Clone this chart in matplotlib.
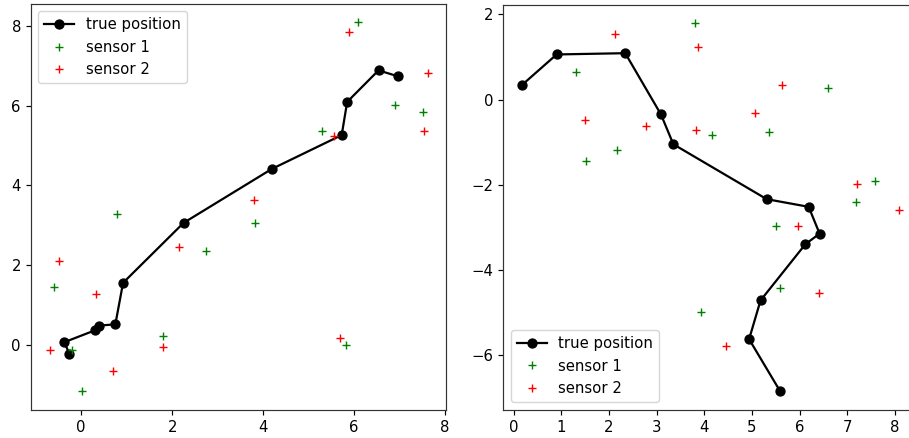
import matplotlib
matplotlib.use("Agg")
import matplotlib.pyplot as plt

# Left panel data
true1_x = [-0.26, -0.37, 0.30, 0.39, 0.75, 0.92, 2.25, 4.19, 5.73, 5.85, 6.54, 6.97]
true1_y = [-0.23, 0.075, 0.37, 0.49, 0.52, 1.56, 3.06, 4.41, 5.26, 6.09, 6.88, 6.73]
s1a_x = [-0.59, -0.21, 0.02, 0.78, 1.80, 2.75, 3.83, 5.30, 5.83, 6.09, 6.91, 7.52]
s1a_y = [1.46, -0.12, -1.15, 3.28, 0.24, 2.35, 3.05, 5.35, 0.00, 8.08, 6.02, 5.83]
s2a_x = [-0.69, -0.49, 0.32, 0.69, 1.80, 2.16, 3.79, 5.56, 5.70, 5.89, 7.55, 7.62]
s2a_y = [-0.12, 2.10, 1.27, -0.64, -0.05, 2.46, 3.63, 5.23, 0.18, 7.85, 5.35, 6.81]

# Right panel data
true2_x = [0.18, 0.90, 2.34, 3.09, 3.35, 5.31, 6.19, 6.42, 6.12, 5.18, 4.94, 5.59]
true2_y = [0.35, 1.06, 1.09, -0.35, -1.05, -2.34, -2.52, -3.15, -3.40, -4.72, -5.63, -6.85]
s1b_x = [3.81, 1.31, 6.59, 5.35, 4.17, 2.16, 1.52, 7.59, 7.18, 5.50, 5.59, 3.94]
s1b_y = [1.79, 0.64, 0.28, -0.77, -0.84, -1.19, -1.44, -1.92, -2.41, -2.97, -4.43, -5.00]
s2b_x = [2.12, 3.87, 5.63, 5.06, 1.49, 2.78, 3.82, 7.21, 8.09, 5.96, 6.40, 4.46]
s2b_y = [1.55, 1.23, 0.35, -0.31, -0.49, -0.63, -0.72, -1.98, -2.59, -2.97, -4.54, -5.80]

labels = ["true position", "sensor 1", "sensor 2"]

s = 1.07
plt.rcParams.update({
    "font.size": 10 * s,
    "lines.linewidth": 1.5 * s,
    "lines.markersize": 6 * s,
    "axes.linewidth": 0.8 * s,
    "xtick.major.size": 3.5 * s,
    "ytick.major.size": 3.5 * s,
    "xtick.major.width": 0.8 * s,
    "ytick.major.width": 0.8 * s,
    "axes.edgecolor": "#333333",
})

fig = plt.figure(figsize=(9.09, 4.38), dpi=100)
ax1 = fig.add_axes([31/909, 28.5/438, 415.5/909, 405.5/438])
ax2 = fig.add_axes([503.5/909, 28.5/438, 414.5/909, 404.5/438])

ax1.plot(true1_x, true1_y, "ko-", label=labels[0])
ax1.plot(s1a_x, s1a_y, "g+", label=labels[1])
ax1.plot(s2a_x, s2a_y, "r+", label=labels[2])
ax1.legend(loc="upper left")

ax2.plot(true2_x, true2_y, "ko-", label=labels[0])
ax2.plot(s1b_x, s1b_y, "g+", label=labels[1])
ax2.plot(s2b_x, s2b_y, "r+", label=labels[2])
ax2.legend(loc="lower left")

fig.savefig("out.png", dpi=100)
